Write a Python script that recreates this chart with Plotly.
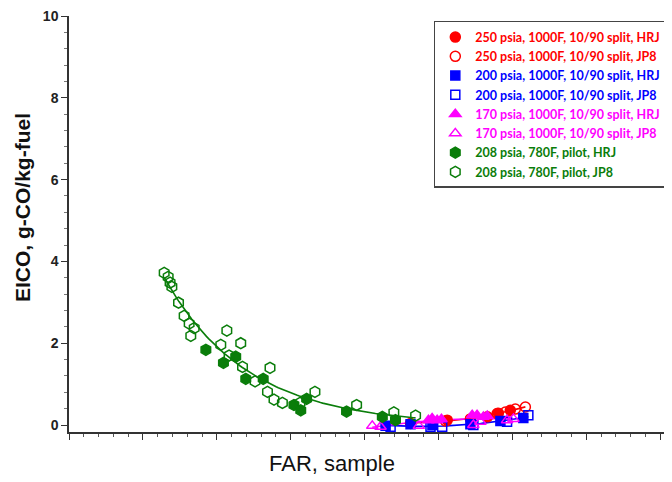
import numpy as np
import plotly.graph_objects as go

# ---- data (FAR, EICO) ----
red_hrj_x = [0.02311, 0.02559, 0.02716, 0.02831, 0.02905, 0.02986]
red_hrj_y = [0.04, 0.12, 0.15, 0.20, 0.29, 0.36]
red_jp8_x = [0.02547, 0.02897, 0.02953, 0.03020, 0.03088]
red_jp8_y = [0.10, 0.28, 0.32, 0.39, 0.44]

blue_hrj_x = [0.02142, 0.02311, 0.02459, 0.02716, 0.02919, 0.03074]
blue_hrj_y = [-0.02, 0.02, 0.00, 0.02, 0.10, 0.17]
blue_jp8_x = [0.02176, 0.02446, 0.02525, 0.02736, 0.02964, 0.03108]
blue_jp8_y = [-0.04, -0.04, -0.04, 0.00, 0.08, 0.24]

mag_hrj_x = [0.02432, 0.02457, 0.02491, 0.02520, 0.02728, 0.02761, 0.02804, 0.02830]
mag_hrj_y = [0.12, 0.16, 0.12, 0.14, 0.24, 0.24, 0.20, 0.22]
mag_jp8_x = [0.02052, 0.02108, 0.02367, 0.02736, 0.02784, 0.02964, 0.03007]
mag_jp8_y = [-0.02, -0.04, -0.02, 0.00, 0.08, 0.12, 0.15]

grn_hrj_x = [0.00926, 0.01045, 0.01128, 0.01196, 0.01314, 0.01522, 0.01568,
             0.01608, 0.01878, 0.02120, 0.02209]
grn_hrj_y = [1.84, 1.52, 1.67, 1.13, 1.13, 0.49, 0.36, 0.64, 0.33, 0.20, 0.12]
grn_jp8_x = [0.00644, 0.00671, 0.00684, 0.00696, 0.00741, 0.00779, 0.00813,
             0.00847, 0.00824, 0.01068, 0.01027, 0.01162, 0.01083, 0.01174,
             0.01259, 0.01360, 0.01343, 0.01387, 0.01444, 0.01664, 0.01563,
             0.01946, 0.02198, 0.02345]
grn_jp8_y = [3.72, 3.62, 3.48, 3.38, 2.99, 2.67, 2.48, 2.37, 2.18, 2.31, 1.96,
             2.00, 1.70, 1.42, 1.07, 1.40, 0.81, 0.62, 0.54, 0.81, 0.54, 0.49,
             0.31, 0.23]

labels = [
    "250 psia, 1000F, 10/90 split, HRJ",
    "250 psia, 1000F, 10/90 split, JP8",
    "200 psia, 1000F, 10/90 split, HRJ",
    "200 psia, 1000F, 10/90 split, JP8",
    "170 psia, 1000F, 10/90 split, HRJ",
    "170 psia, 1000F, 10/90 split, JP8",
    "208 psia, 780F, pilot, HRJ",
    "208 psia, 780F, pilot, JP8",
]

RED, BLUE, MAG, GRN = "#FF0000", "#0000FF", "#FF00FF", "#0A7D0A"

fig = go.Figure()


def add_fit(xs, ys, color, kind="quad"):
    xs = np.asarray(xs); ys = np.asarray(ys)
    xf = np.linspace(xs.min(), xs.max(), 120)
    if kind == "exp":
        b, a = np.polyfit(xs, np.log(ys), 1, w=np.sqrt(ys))
        yf = np.exp(a + b * xf)
    else:
        c = np.polyfit(xs, ys, 2)
        yf = np.polyval(c, xf)
    fig.add_trace(go.Scatter(x=xf, y=yf, mode="lines", showlegend=False,
                             line=dict(color=color, width=1.6), hoverinfo="skip"))


add_fit(red_hrj_x + red_jp8_x, red_hrj_y + red_jp8_y, RED)
add_fit(blue_hrj_x + blue_jp8_x, blue_hrj_y + blue_jp8_y, BLUE)
add_fit(mag_hrj_x + mag_jp8_x, mag_hrj_y + mag_jp8_y, MAG)
add_fit(grn_hrj_x + grn_jp8_x, grn_hrj_y + grn_jp8_y, GRN, kind="exp")

series = [
    (red_hrj_x, red_hrj_y, RED, "circle", 10),
    (red_jp8_x, red_jp8_y, RED, "circle-open", 10),
    (blue_hrj_x, blue_hrj_y, BLUE, "square", 9),
    (blue_jp8_x, blue_jp8_y, BLUE, "square-open", 9),
    (mag_hrj_x, mag_hrj_y, MAG, "triangle-up", 10),
    (mag_jp8_x, mag_jp8_y, MAG, "triangle-up-open", 10),
    (grn_hrj_x, grn_hrj_y, GRN, "hexagon", 11),
    (grn_jp8_x, grn_jp8_y, GRN, "hexagon-open", 11),
]
for (xs, ys, col, sym, sz), lab in zip(series, labels):
    fig.add_trace(go.Scatter(
        x=xs, y=ys, mode="markers",
        name=f"<span style='color:{col}'><b>{lab}</b></span>",
        marker=dict(color=col, symbol=sym, size=sz,
                    line=dict(color=col, width=1.5)),
    ))

# page body has an 8px margin: figure is sized/margined to land on the same pixels
PLOT_H = 474 - 8 - 50
fig.update_layout(
    width=664, height=474,
    margin=dict(l=61, r=0, t=8, b=50, autoexpand=False),
    paper_bgcolor="white", plot_bgcolor="white",
    font=dict(family="Liberation Sans, Arial, sans-serif", color="#222"),
    legend=dict(x=0.605, y=0.988, xanchor="left", yanchor="top",
                bgcolor="white", bordercolor="#444", borderwidth=1.5,
                font=dict(family="Lato, sans-serif", size=12.5),
                tracegroupgap=0),
    xaxis=dict(range=[0, 0.0408], showgrid=False, zeroline=False,
               showline=True, linecolor="#333", linewidth=1.5,
               ticks="outside", ticklen=6, tickcolor="#333", dtick=0.005,
               tick0=0, showticklabels=False, automargin=False,
               minor=dict(ticks="outside", ticklen=3, dtick=0.001,
                          tickcolor="#555")),
    yaxis=dict(range=[-0.17, 10], showgrid=False, zeroline=False,
               showline=True, linecolor="#333", linewidth=1.5,
               ticks="outside", ticklen=6, tickcolor="#333", dtick=2,
               tick0=0, automargin=False, ticklabeloverflow="allow",
               tickfont=dict(size=14, color="#222", weight="bold"),
               minor=dict(ticks="outside", ticklen=3, dtick=0.4,
                          tickcolor="#777")),
    annotations=[
        dict(text="FAR, sample", xref="paper", yref="paper",
             x=(332 - 69) / 603, y=-31 / PLOT_H, xanchor="center",
             yanchor="middle", showarrow=False,
             font=dict(size=22, color="#111")),
        dict(text="<b>EICO, g-CO/kg-fuel</b>", xref="paper", yref="paper",
             x=(22 - 69) / 603, y=1 - (208 - 16) / PLOT_H, xanchor="center",
             yanchor="middle", textangle=-90, showarrow=False,
             font=dict(size=21, color="#111")),
    ],
)

fig.write_html("out.html")
